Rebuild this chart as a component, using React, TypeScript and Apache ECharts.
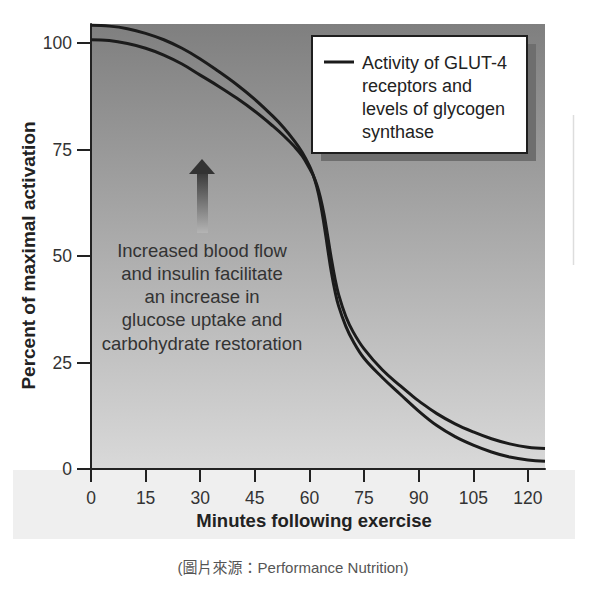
import React, { useEffect, useRef } from "react";
import * as echarts from "echarts";

const xTicks = [0, 15, 30, 45, 60, 75, 90, 105, 120];
const yTicks = [0, 25, 50, 75, 100];

const curveAX = [0, 5, 10, 15, 20, 25, 30, 35, 40, 45, 50, 53, 56, 58, 60, 61, 62, 63, 64, 65, 66, 67, 68, 70, 72, 75, 80, 85, 90, 95, 100, 105, 110, 115, 120, 124.7];
const curveAY = [104.2, 104, 103.4, 102.3, 100.8, 98.8, 96.3, 93.4, 90.3, 86.8, 82.8, 80.1, 76.9, 74.4, 71.2, 69.1, 66.3, 62.5, 57.5, 51.8, 46.3, 41.8, 38.3, 33.5, 30, 26, 21.5, 17.5, 13.6, 10.2, 7.6, 5.6, 4, 2.8, 2.1, 1.8];

const curveBX = [0, 5, 10, 15, 20, 25, 30, 35, 40, 45, 50, 53, 56, 58, 60, 61, 62, 63, 64, 65, 66, 67, 68, 70, 72, 75, 80, 85, 88.5, 90, 95, 100, 105, 110, 115, 120, 124.7];
const curveBY = [100.8, 100.6, 99.9, 98.8, 97.2, 95.1, 92.5, 89.9, 87.1, 84, 80.5, 78.2, 75.6, 73.5, 70.6, 69, 66.8, 63.8, 59.8, 54.8, 49.5, 44.8, 41, 35.8, 32.2, 28.2, 23.3, 19.5, 17, 16, 13, 10.6, 8.7, 7.1, 5.9, 5.1, 4.8];

const legendLines = ["Activity of GLUT-4", "receptors and", "levels of glycogen", "synthase"];
const noteLines = [
  "Increased blood flow",
  "and insulin facilitate",
  "an increase in",
  "glucose uptake and",
  "carbohydrate restoration",
];
const caption = "(圖片來源：Performance Nutrition)";
const xName = "Minutes following exercise";
const yName = "Percent of maximal activation";

const FONT = '"Liberation Sans", Arial, Helvetica, sans-serif';

export default function App() {
  const ref = useRef<HTMLDivElement>(null);
  useEffect(() => {
    if (!ref.current) return;
    const chart = echarts.init(ref.current, null, { renderer: "svg" });
    const lineStyle = { color: "#1b1b1b", width: 3 };
    const option: any = {
      animation: false,
      backgroundColor: "#ffffff",
      grid: {
        left: 91,
        right: 55,
        top: 24,
        bottom: 122,
        show: true,
        borderWidth: 0,
        backgroundColor: new echarts.graphic.LinearGradient(0, 0, 0, 1, [
          { offset: 0, color: "#7f7f7f" },
          { offset: 1, color: "#d9d9d9" },
        ]),
        outerBoundsMode: "none",
      },
      xAxis: {
        type: "value",
        min: 0,
        max: 124.7,
        interval: 15,
        name: xName,
        nameLocation: "middle",
        nameGap: 42,
        nameMoveOverlap: false,
        nameTextStyle: { fontFamily: FONT, fontSize: 18.5, fontWeight: "bold", color: "#222", padding: [0, 8, 0, 0] },
        axisLine: { show: true, onZero: false, lineStyle: { color: "#222", width: 2 } },
        axisTick: { show: true, inside: false, length: 13, customValues: xTicks, lineStyle: { color: "#222", width: 2 } },
        axisLabel: { customValues: xTicks, margin: 20, fontFamily: FONT, fontSize: 17.5, color: "#333" },
        splitLine: { show: false },
      },
      yAxis: {
        type: "value",
        min: 0,
        max: 104.5,
        interval: 25,
        name: yName,
        nameLocation: "middle",
        nameRotate: 90,
        nameGap: 53,
        nameMoveOverlap: false,
        nameTextStyle: { fontFamily: FONT, fontSize: 19, fontWeight: "bold", color: "#222", padding: [0, 18, 0, 0] },
        axisLine: { show: true, onZero: false, lineStyle: { color: "#222", width: 2 } },
        axisTick: { show: true, inside: false, length: 14, customValues: yTicks, lineStyle: { color: "#222", width: 2 } },
        axisLabel: { customValues: yTicks, margin: 19, fontFamily: FONT, fontSize: 17.5, color: "#333" },
        splitLine: { show: false },
      },
      series: [
        {
          name: legendLines.join(" "),
          type: "line",
          data: curveAX.map((x, i) => [x, curveAY[i]]),
          smooth: 0.4,
          symbol: "none",
          lineStyle,
          z: 5,
        },
        {
          name: "curve B",
          type: "line",
          data: curveBX.map((x, i) => [x, curveBY[i]]),
          smooth: 0.4,
          symbol: "none",
          lineStyle,
          z: 5,
        },
      ],
      graphic: [
        {
          type: "rect",
          z: -10,
          shape: { x: 13, y: 470, width: 562, height: 69 },
          style: { fill: "#efefef" },
        },
        {
          type: "line",
          shape: { x1: 573.5, y1: 115, x2: 573.5, y2: 265 },
          style: { stroke: "#dddddd", lineWidth: 1.5 },
        },
        {
          type: "group",
          z: 20,
          children: [
            { type: "rect", shape: { x: 321, y: 44, width: 215, height: 117 }, style: { fill: "#6e6e6e" } },
            { type: "rect", shape: { x: 312, y: 36, width: 215, height: 117 }, style: { fill: "#ffffff", stroke: "#1e1e1e", lineWidth: 2 } },
            { type: "line", shape: { x1: 324, y1: 62, x2: 354, y2: 62 }, style: { stroke: "#1b1b1b", lineWidth: 3 } },
            ...legendLines.map((t, i) => ({
              type: "text",
              x: 362,
              y: 63 + i * 23,
              style: { text: t, font: `18px ${FONT}`, fill: "#222", textVerticalAlign: "middle", textAlign: "left" },
            })),
          ],
        },
        {
          type: "group",
          z: 10,
          children: [
            {
              type: "rect",
              shape: { x: 197, y: 173, width: 11, height: 60 },
              style: {
                fill: new echarts.graphic.LinearGradient(0, 0, 0, 1, [
                  { offset: 0, color: "#3a3a3a" },
                  { offset: 1, color: "#b4b4b4" },
                ]),
              },
            },
            {
              type: "polygon",
              shape: { points: [[202, 159], [189, 174], [215, 174]] },
              style: { fill: "#333333" },
            },
            ...noteLines.map((t, i) => ({
              type: "text",
              x: 202,
              y: 250 + i * 23.3,
              style: { text: t, font: `18.5px ${FONT}`, fill: "#333", textVerticalAlign: "middle", textAlign: "center" },
            })),
          ],
        },
        {
          type: "text",
          x: 293,
          y: 567,
          style: {
            text: caption,
            font: `15px "Liberation Sans", "Noto Sans CJK TC", sans-serif`,
            fill: "#555",
            textVerticalAlign: "middle",
            textAlign: "center",
          },
        },
      ],
    };
    chart.setOption(option);
    return () => chart.dispose();
  }, []);
  return (
    <div
      ref={ref}
      style={{ position: "fixed", left: 0, top: 0, width: 600, height: 591 }}
    />
  );
}
